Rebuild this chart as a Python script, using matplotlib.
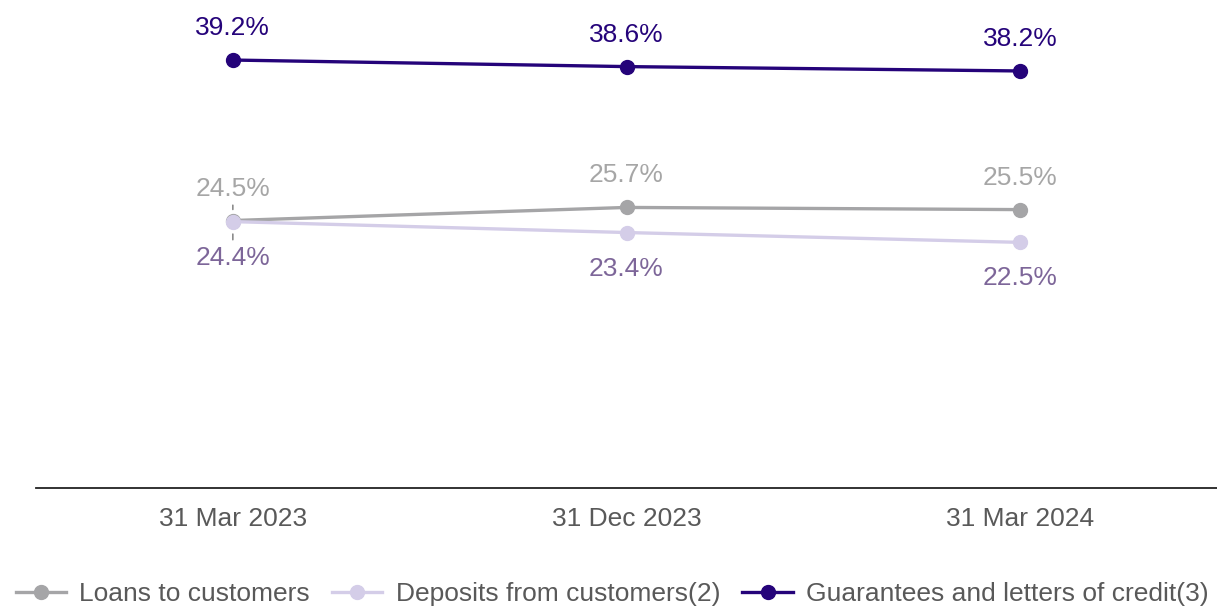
import matplotlib.pyplot as plt

plt.rcParams['font.family'] = ['Liberation Sans', 'DejaVu Sans']

dates = ['31 Mar 2023', '31 Dec 2023', '31 Mar 2024']
loans = [24.5, 25.7, 25.5]
deposits = [24.4, 23.4, 22.5]
guarantees = [39.2, 38.6, 38.2]

c_loans = '#a5a5a7'
c_dep = '#d4cde8'
c_guar = '#25037a'
c_dep_text = '#7d6699'
c_loans_text = '#a6a6a6'
c_axis_text = '#595959'

fig = plt.figure(figsize=(12.17, 6.06), dpi=100)
ax = fig.add_axes([36 / 1217, 118 / 606, 1 - 36 / 1217, 1 - 118 / 606])

x = range(len(dates))
ax.plot(x, loans, color=c_loans, lw=2.4, marker='o', ms=10, label='Loans to customers', zorder=3)
ax.plot(x, deposits, color=c_dep, lw=2.4, marker='o', ms=10, label='Deposits from customers(2)', zorder=4)
ax.plot(x, guarantees, color=c_guar, lw=2.4, marker='o', ms=10,
        label='Guarantees and letters of credit(3)', zorder=3)

# data labels
for i in x:
    ax.annotate(f'{guarantees[i]:.1f}%', (i, guarantees[i]), xytext=(0, 23), textcoords='offset points',
                ha='center', va='center', fontsize=19, color=c_guar)
    ax.annotate(f'{loans[i]:.1f}%', (i, loans[i]), xytext=(0, 23), textcoords='offset points',
                ha='center', va='center', fontsize=19, color=c_loans_text)
    ax.annotate(f'{deposits[i]:.1f}%', (i, deposits[i]), xytext=(0, -26), textcoords='offset points',
                ha='center', va='center', fontsize=19, color=c_dep_text)

# small leader ticks where the labels crowd the first point
ax.annotate('', xy=(0, loans[0]), xytext=(0, 11), textcoords='offset points',
            arrowprops=dict(arrowstyle='-', color='#8c8c8c', lw=1.2, shrinkA=0, shrinkB=8))
ax.annotate('', xy=(0, deposits[0]), xytext=(0, -13), textcoords='offset points',
            arrowprops=dict(arrowstyle='-', color='#8c8c8c', lw=1.2, shrinkA=0, shrinkB=9))

ax.set_xlim(-0.5, 2.5)
ax.set_ylim(0, 44.7)
ax.set_xticks(list(x))
ax.set_xticklabels(dates, fontsize=19, color=c_axis_text)
ax.tick_params(axis='x', length=0, pad=14)
ax.set_yticks([])

for s in ['top', 'right', 'left']:
    ax.spines[s].set_visible(False)
ax.spines['bottom'].set_color('#222222')
ax.spines['bottom'].set_linewidth(1.3)

fig.legend(loc='lower center', bbox_to_anchor=(0.503, -0.04), ncol=3, frameon=False,
           fontsize=19, labelcolor=c_axis_text, handlelength=1.9, handletextpad=0.5,
           columnspacing=0.85)

fig.savefig('out.png', dpi=100)
